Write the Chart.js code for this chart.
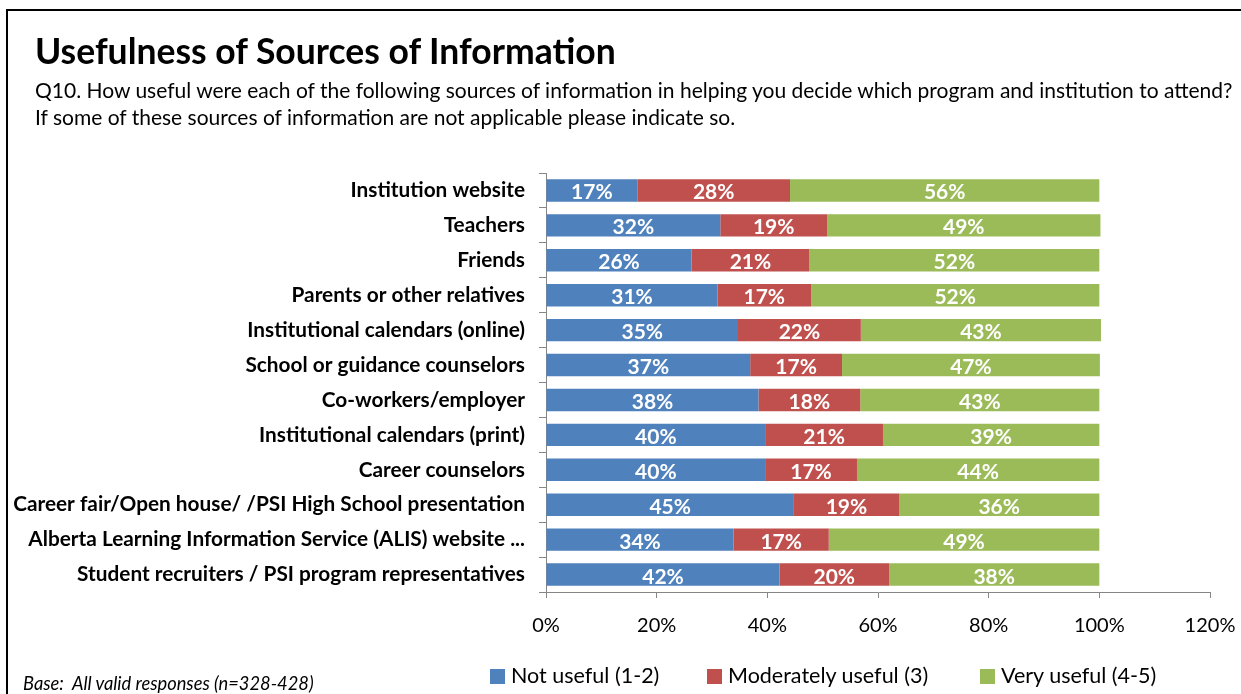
<!DOCTYPE html>
<html lang="en">
<head>
  <meta charset="UTF-8" />
  <title>Usefulness of Sources of Information</title>
  <style>
    * { box-sizing: border-box; }
    body {
      margin: 0;
      width: 1241px;
      height: 694px;
      overflow: hidden;
      position: relative;
      background: #fff;
      color: #000;
      font-family: Lato, "Noto Sans", sans-serif;
    }
    .frame {
      position: absolute;
      left: 6px; top: 9px; right: -4px; bottom: -4px;
      border-left: 2px solid #000;
      border-top: 2px solid #000;
    }
    #grafico { position: absolute; left: 0; top: 0; }
    h1 {
      position: absolute;
      left: 35px; top: 30px;
      margin: 0;
      font-size: 35.5px;
      line-height: 1.2;
      font-weight: 700;
    }
    .sub {
      position: absolute;
      left: 35px; top: 76px;
      margin: 0;
      font-size: 21px;
      line-height: 27px;
    }
    .base {
      position: absolute;
      left: 23px; top: 673px;
      font-size: 18.3px;
      font-style: italic;
      line-height: 1.2;
    }
    .leg {
      position: absolute;
      top: 663px;
      font-size: 21.5px;
      line-height: 25px;
      white-space: nowrap;
    }
    .leg i {
      display: inline-block;
      width: 15px; height: 15px;
      margin-right: 6px;
      vertical-align: -1px;
    }
  </style>
</head>
<body>
  <div class="frame"></div>
  <canvas id="grafico" width="1241" height="694"></canvas>

  <h1>Usefulness of Sources of Information</h1>
  <p class="sub">Q10. How useful were each of the following sources of information in helping you decide which program and institution to attend?<br>If some of these sources of information are not applicable please indicate so.</p>

  <div class="leg" style="left:490px"><i style="background:#4F81BD"></i>Not useful (1-2)</div>
  <div class="leg" style="left:707px"><i style="background:#C0504D"></i>Moderately useful (3)</div>
  <div class="leg" style="left:980px"><i style="background:#9BBB59"></i>Very useful (4-5)</div>

  <div class="base">Base:&nbsp; All valid responses (n=328-428)</div>

  <script src="https://cdn.jsdelivr.net/npm/chart.js"></script>
  <script>
    const categories = [
      'Institution website',
      'Teachers',
      'Friends',
      'Parents or other relatives',
      'Institutional calendars (online)',
      'School or guidance counselors',
      'Co-workers/employer',
      'Institutional calendars (print)',
      'Career counselors',
      'Career fair/Open house/ /PSI High School presentation',
      'Alberta Learning Information Service (ALIS) website ...',
      'Student recruiters / PSI program representatives'
    ];
    const notUseful =        [16.5, 31.5, 26.3, 31.0, 34.7, 36.9, 38.4, 39.6, 39.6, 44.8, 33.9, 42.2];
    const moderatelyUseful = [27.6, 19.3, 21.3, 16.9, 22.2, 16.6, 18.4, 21.3, 16.6, 19.0, 17.2, 19.8];
    const veryUseful =       [55.9, 49.4, 52.4, 52.1, 43.4, 46.6, 43.2, 39.1, 43.8, 36.2, 48.9, 38.0];
    const xTicks = [0, 20, 40, 60, 80, 100, 120];

    const corEixo = '#868686';
    Chart.defaults.font.family = 'Lato, "Noto Sans", sans-serif';

    // rótulos brancos no meio de cada segmento
    const rotulos = {
      id: 'rotulos',
      afterDatasetsDraw(chart) {
        const ctx = chart.ctx;
        ctx.save();
        ctx.font = 'bold 21px Lato, "Noto Sans", sans-serif';
        ctx.fillStyle = '#fff';
        ctx.textAlign = 'center';
        ctx.textBaseline = 'alphabetic';
        chart.data.datasets.forEach((ds, i) => {
          chart.getDatasetMeta(i).data.forEach((bar, j) => {
            const p = bar.getCenterPoint();
            ctx.fillText(Math.round(ds.data[j]) + '%', p.x, p.y + 9);
          });
        });
        ctx.restore();
      }
    };

    new Chart(document.getElementById('grafico'), {
      type: 'bar',
      data: {
        labels: categories,
        datasets: [
          { label: 'Not useful (1-2)', data: notUseful, backgroundColor: '#4F81BD' },
          { label: 'Moderately useful (3)', data: moderatelyUseful, backgroundColor: '#C0504D' },
          { label: 'Very useful (4-5)', data: veryUseful, backgroundColor: '#9BBB59' }
        ]
      },
      options: {
        indexAxis: 'y',
        responsive: false,
        animation: false,
        layout: { padding: { top: 173, right: 31, bottom: 0, left: 0 } },
        datasets: { bar: { barPercentage: 0.64, categoryPercentage: 1 } },
        plugins: {
          legend: { display: false },
          tooltip: { enabled: false }
        },
        scales: {
          x: {
            stacked: true,
            min: 0,
            max: 120,
            // altura fixa e sem folga extra pro rótulo "120%" (fica em x = 1210)
            afterFit: s => {
              s.height = 102;
              s.paddingLeft = 0;
              s.paddingRight = 0;
            },
            afterBuildTicks: s => { s.ticks = xTicks.map(v => ({ value: v })); },
            grid: { drawOnChartArea: false, tickLength: 6, color: corEixo },
            border: { color: corEixo },
            ticks: {
              padding: 16,
              color: '#000',
              font: { size: 20 },
              callback: v => v + '%'
            }
          },
          y: {
            stacked: true,
            afterFit: s => { s.width = 546; },
            grid: { drawOnChartArea: false, offset: true, tickLength: 7, color: corEixo },
            border: { color: corEixo },
            ticks: {
              padding: 14,
              color: '#000',
              font: { size: 20.8, weight: 'bold' }
            }
          }
        }
      },
      plugins: [rotulos]
    });
  </script>
</body>
</html>
